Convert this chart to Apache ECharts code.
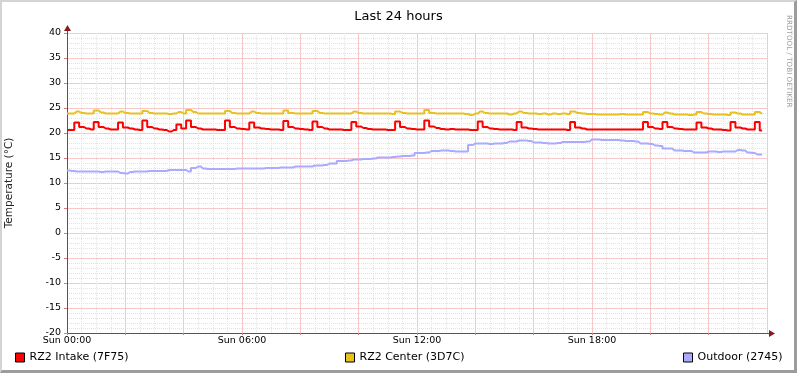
<!DOCTYPE html>
<html>
<head>
<meta charset="utf-8">
<script src="https://cdn.jsdelivr.net/npm/echarts@6/dist/echarts.min.js"></script>
<style>
	html, body {margin: 0; padding: 0; background: #fff;}
	#wrap {position: relative; width: 797px; height: 373px;}
	#main {width: 797px; height: 373px;}
	#frame {
		position: absolute; left: 0; top: 0; width: 797px; height: 373px;
		box-sizing: border-box; pointer-events: none;
		border-top: 2px solid #d4d4d4; border-left: 2px solid #d4d4d4;
		border-right: 3px solid #9c9c9c; border-bottom: 3px solid #9c9c9c;
	}
</style>
</head>
<body>
<div id="wrap">
	<div id="main"></div>
	<div id="frame"></div>
</div>
<script>
// one sample every 10 minutes, from Sun 00:00 to 23:50
const stepHours = 1 / 6;

const intake = [
	20.6, 20.6, 22.1, 21.2, 20.9, 20.7, 22.2, 21.2, 20.9, 20.7, 20.7, 22.1,
	21.1, 20.9, 20.7, 20.6, 22.5, 21.2, 20.9, 20.7, 20.6, 20.3, 20.6, 21.7,
	20.9, 22.5, 21.2, 20.9, 20.7, 20.7, 20.7, 20.6, 20.6, 22.5, 21.2, 20.9,
	20.8, 20.7, 22.1, 21.1, 20.9, 20.8, 20.7, 20.7, 20.6, 22.4, 21.2, 20.9,
	20.8, 20.7, 20.6, 22.3, 21.2, 20.9, 20.7, 20.7, 20.7, 20.6, 20.6, 22.2,
	21.3, 21.0, 20.8, 20.7, 20.7, 20.7, 20.6, 20.6, 22.3, 21.2, 20.9, 20.8,
	20.7, 20.7, 22.5, 21.3, 21.0, 20.8, 20.7, 20.8, 20.7, 20.7, 20.7, 20.6,
	20.6, 22.3, 21.2, 20.9, 20.8, 20.7, 20.7, 20.7, 20.6, 22.2, 21.1, 20.9,
	20.8, 20.7, 20.7, 20.7, 20.7, 20.7, 20.7, 20.6, 22.2, 21.1, 20.9, 20.7,
	20.7, 20.7, 20.7, 20.7, 20.7, 20.7, 20.7, 20.7, 20.7, 20.7, 20.7, 22.2,
	21.2, 20.9, 20.8, 22.2, 21.2, 20.9, 20.8, 20.7, 20.7, 20.7, 22.1, 21.1,
	20.9, 20.7, 20.7, 20.6, 20.5, 22.2, 21.1, 20.9, 20.7, 20.7, 22.2, 20.5
];

const center = [
	23.9, 23.9, 24.3, 24.0, 23.9, 23.9, 24.5, 24.1, 23.9, 23.9, 23.9, 24.3,
	24.0, 23.9, 23.9, 23.9, 24.4, 24.0, 23.9, 23.9, 23.9, 23.8, 23.9, 24.2,
	23.9, 24.6, 24.2, 23.9, 23.9, 23.9, 23.9, 23.9, 23.9, 24.4, 24.0, 23.9,
	23.9, 23.9, 24.3, 24.0, 23.9, 23.9, 23.9, 23.9, 23.9, 24.5, 24.0, 23.9,
	23.9, 23.9, 23.9, 24.4, 24.0, 23.9, 23.9, 23.9, 23.9, 23.9, 23.9, 24.3,
	24.0, 23.9, 23.9, 23.9, 23.9, 23.9, 23.9, 23.8, 24.3, 24.0, 23.9, 23.9,
	23.9, 23.9, 24.6, 24.0, 23.9, 23.9, 23.9, 23.9, 23.9, 23.9, 23.8, 23.6,
	23.9, 24.3, 24.0, 23.9, 23.9, 23.9, 23.9, 23.7, 23.9, 24.3, 24.0, 23.9,
	23.9, 23.8, 23.9, 23.7, 23.9, 23.8, 23.9, 23.8, 24.3, 24.0, 23.9, 23.8,
	23.8, 23.7, 23.7, 23.7, 23.7, 23.7, 23.8, 23.7, 23.7, 23.7, 23.7, 24.2,
	23.9, 23.8, 23.7, 24.1, 23.9, 23.7, 23.7, 23.7, 23.6, 23.7, 24.2, 23.9,
	23.8, 23.7, 23.7, 23.7, 23.6, 24.1, 23.9, 23.7, 23.7, 23.7, 24.2, 23.8
];

const outdoor = [
	12.5, 12.4, 12.3, 12.3, 12.3, 12.3, 12.3, 12.2, 12.3, 12.3, 12.3, 12.0,
	11.9, 12.2, 12.3, 12.3, 12.3, 12.4, 12.4, 12.4, 12.4, 12.6, 12.6, 12.6,
	12.6, 12.3, 13.0, 13.3, 12.9, 12.8, 12.8, 12.8, 12.8, 12.8, 12.8, 12.9,
	12.9, 12.9, 12.9, 12.9, 12.9, 13.0, 13.0, 13.0, 13.1, 13.1, 13.1, 13.3,
	13.3, 13.3, 13.3, 13.5, 13.5, 13.6, 13.9, 13.9, 14.4, 14.4, 14.5, 14.7,
	14.7, 14.8, 14.8, 14.9, 15.1, 15.1, 15.1, 15.2, 15.3, 15.4, 15.4, 15.5,
	16.0, 16.0, 16.1, 16.4, 16.4, 16.5, 16.5, 16.4, 16.3, 16.3, 16.3, 17.6,
	17.9, 17.9, 17.9, 17.8, 17.9, 17.9, 18.0, 18.3, 18.3, 18.5, 18.5, 18.4,
	18.1, 18.1, 18.0, 17.9, 17.9, 18.0, 18.2, 18.2, 18.2, 18.2, 18.2, 18.3,
	18.7, 18.7, 18.6, 18.6, 18.6, 18.6, 18.5, 18.4, 18.4, 18.3, 17.9, 17.9,
	17.8, 17.5, 17.4, 16.9, 16.9, 16.5, 16.5, 16.4, 16.4, 16.1, 16.1, 16.1,
	16.3, 16.3, 16.2, 16.3, 16.3, 16.3, 16.6, 16.5, 16.1, 16.0, 15.7, 15.7
];

const seriesNames = ['RZ2 Intake (7F75)', 'RZ2 Center (3D7C)', 'Outdoor (2745)'];
const seriesColors = ['#ff0000', '#e8c020', '#aaaaff'];
const yTicks = {min: -20, max: 40, interval: 5};
// 2 h major grid on x, half-hour minor grid
const xTicks = {min: 0, max: 24, interval: 2};

const font = 'DejaVu Sans';
const toPairs = arr => arr.map((v, i) => [i * stepHours, v]);

const chart = echarts.init(document.getElementById('main'), null, {renderer: 'canvas'});

const legendAt = [15, 345, 683];
const majorGrid = {color: '#f6c8c8', type: 'solid'};
const minorGrid = {color: '#e2e2e2', type: [1, 1]};

const lineSeries = (name, data, color, z) => ({
	name, type: 'line', data: toPairs(data), color,
	step: 'middle', showSymbol: false, lineStyle: {width: 2}, z
});

chart.setOption({
	animation: false,
	backgroundColor: '#ffffff',
	title: {
		text: 'Last 24 hours',
		left: 'center',
		top: 5,
		textStyle: {fontFamily: font, fontSize: 13, fontWeight: 'normal', color: '#000'}
	},
	legend: seriesNames.map((name, i) => ({
		data: [{name, icon: 'rect'}],
		left: legendAt[i],
		top: 352,
		padding: 0,
		itemWidth: 9,
		itemHeight: 9,
		itemStyle: {borderColor: '#000', borderWidth: 1},
		textStyle: {fontFamily: font, fontSize: 11, color: '#000'},
		selectedMode: false
	})),
	// fixed plot box, no automatic shrinking for labels
	grid: {left: 67, top: 33, right: 30, bottom: 40, containLabel: false, outerBoundsMode: 'none'},
	xAxis: {
		type: 'value',
		min: xTicks.min,
		max: xTicks.max,
		interval: xTicks.interval,
		axisLine: {show: true, onZero: false, lineStyle: {color: '#555', width: 1}},
		axisTick: {show: true, length: 2, lineStyle: {color: '#d08080'}},
		axisLabel: {
			fontFamily: font,
			fontSize: 9.5,
			color: '#000',
			margin: 3,
			showMaxLabel: false,
			formatter: h => (h % 6 === 0 && h < 24) ? 'Sun ' + String(h).padStart(2, '0') + ':00' : ''
		},
		splitLine: {show: true, lineStyle: majorGrid},
		minorTick: {show: false, splitNumber: 4},
		minorSplitLine: {show: true, lineStyle: minorGrid}
	},
	yAxis: {
		type: 'value',
		min: yTicks.min,
		max: yTicks.max,
		interval: yTicks.interval,
		name: 'Temperature (°C)',
		nameLocation: 'middle',
		nameGap: 52,
		nameTextStyle: {fontFamily: font, fontSize: 10.5, color: '#222'},
		axisLine: {show: true, lineStyle: {color: '#555', width: 1}},
		axisTick: {show: true, length: 3, lineStyle: {color: '#d08080'}},
		axisLabel: {fontFamily: font, fontSize: 9.5, color: '#000', margin: 6},
		splitLine: {show: true, lineStyle: majorGrid},
		minorTick: {show: false, splitNumber: 5},
		minorSplitLine: {show: true, lineStyle: minorGrid}
	},
	graphic: [
		// rrdtool watermark on the right edge
		{
			type: 'text',
			x: 792,
			y: 15,
			rotation: -Math.PI / 2,
			style: {text: 'RRDTOOL / TOBI OETIKER', fontFamily: font, fontSize: 7.2, fill: '#a0a0a0', align: 'left', verticalAlign: 'top'}
		},
		// axis arrows
		{type: 'line', shape: {x1: 67.5, y1: 33, x2: 67.5, y2: 29}, style: {stroke: '#555', lineWidth: 1}},
		{type: 'polygon', shape: {points: [[67.5, 25], [64, 31], [71, 31]]}, style: {fill: '#8b1a1a'}},
		{type: 'line', shape: {x1: 767, y1: 333.5, x2: 771, y2: 333.5}, style: {stroke: '#555', lineWidth: 1}},
		{type: 'polygon', shape: {points: [[775, 333.5], [769, 330], [769, 337]]}, style: {fill: '#8b1a1a'}}
	],
	series: [
		lineSeries(seriesNames[2], outdoor, seriesColors[2], 3),
		lineSeries(seriesNames[0], intake, seriesColors[0], 4),
		lineSeries(seriesNames[1], center, seriesColors[1], 5)
	]
});
</script>
</body>
</html>
